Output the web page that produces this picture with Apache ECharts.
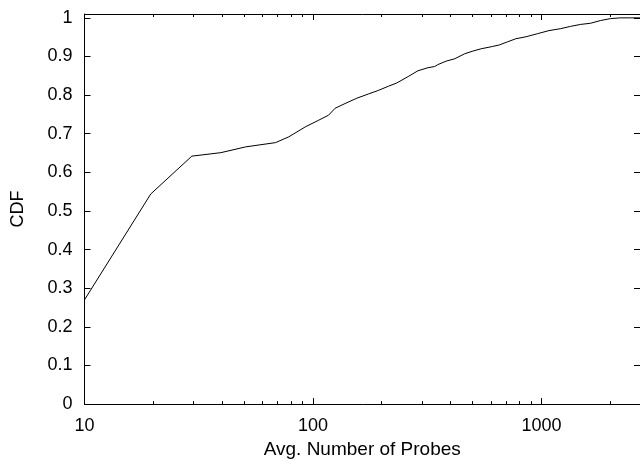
<!DOCTYPE html>
<html>
<head>
<meta charset="utf-8">
<script src="https://cdn.jsdelivr.net/npm/echarts@6/dist/echarts.min.js"></script>
<style>
  html, body { margin: 0; padding: 0; background: #fff; }
  #chart { width: 640px; height: 464px; }
</style>
</head>
<body>
<div id="chart"></div>
<script>
// Data (x: avg number of probes, y: CDF)
const probes = [10, 19.5, 29.5, 39.5, 50.8, 68.6, 78.4, 92.7, 105.9, 117, 125, 138, 155.6, 175, 193, 214, 232, 261, 288, 319, 341, 352, 383, 417, 461, 501, 545, 612, 655, 711, 773, 855, 961, 1079, 1213, 1342, 1483, 1639, 1811, 2004, 2214, 2448, 2700];
const cdf    = [0.270, 0.544, 0.642, 0.651, 0.666, 0.677, 0.692, 0.718, 0.735, 0.748, 0.766, 0.778, 0.792, 0.803, 0.812, 0.823, 0.831, 0.848, 0.863, 0.871, 0.874, 0.879, 0.888, 0.894, 0.907, 0.914, 0.920, 0.926, 0.930, 0.938, 0.946, 0.951, 0.959, 0.967, 0.972, 0.978, 0.983, 0.986, 0.993, 0.998, 1.0, 1.0, 1.0];

const xMajorTicks = [10, 100, 1000];
const xMinorTicks = [20, 30, 40, 50, 60, 70, 80, 90, 200, 300, 400, 500, 600, 700, 800, 900, 2000];
const yTicks = [0, 0.1, 0.2, 0.3, 0.4, 0.5, 0.6, 0.7, 0.8, 0.9, 1];

const xMin = 10, xMax = 2700;
const yMin = 0, yMax = 1.01;

const FONT = 'Liberation Sans, Arial, Helvetica, sans-serif';
const FS = 18;

const chart = echarts.init(document.getElementById('chart'), null, { renderer: 'canvas' });

function xAx(pos, ticks, len, showLine, showLabel, extra) {
  return Object.assign({
    type: 'log', logBase: 10, min: xMin, max: xMax, position: pos,
    axisLine: { show: showLine, lineStyle: { color: '#000', width: 1 } },
    axisTick: { show: true, inside: true, length: len, customValues: ticks, lineStyle: { color: '#000', width: 1 } },
    axisLabel: { show: showLabel, customValues: ticks, color: '#000', fontFamily: FONT, fontSize: FS, margin: 13,
                 formatter: v => String(Math.round(v)) },
    splitLine: { show: false }, minorTick: { show: false }, minorSplitLine: { show: false }
  }, extra || {});
}

function yAx(pos, showLabel, extra) {
  return Object.assign({
    type: 'value', min: yMin, max: yMax, position: pos,
    axisLine: { show: true, lineStyle: { color: '#000', width: 1 } },
    axisTick: { show: true, inside: true, length: 6, customValues: yTicks, lineStyle: { color: '#000', width: 1 } },
    axisLabel: { show: showLabel, customValues: yTicks, color: '#000', fontFamily: FONT, fontSize: FS, margin: 12 },
    splitLine: { show: false }
  }, extra || {});
}

const plotWidth = 558.6;

chart.setOption({
  animation: false,
  backgroundColor: '#fff',
  grid: { left: 84.5, top: 14, width: plotWidth, height: 394, containLabel: false },
  xAxis: [
    xAx('bottom', xMajorTicks, 6, true, true, {
      name: 'Avg. Number of Probes', nameLocation: 'middle', nameGap: 34,
      nameTextStyle: { color: '#000', fontFamily: FONT, fontSize: 19 }
    }),
    xAx('bottom', xMinorTicks, 3, false, false),
    xAx('top', xMajorTicks, 6, true, false),
    xAx('top', xMinorTicks, 3, false, false)
  ],
  yAxis: [
    yAx('left', true, {
      name: 'CDF', nameLocation: 'middle', nameGap: 57,
      nameTextStyle: { color: '#000', fontFamily: FONT, fontSize: FS }
    }),
    yAx('right', false)
  ],
  series: [{
    type: 'line',
    xAxisIndex: 0, yAxisIndex: 0,
    data: probes.map((p, i) => [p, cdf[i]]),
    showSymbol: false,
    symbol: 'none',
    lineStyle: { color: '#000', width: 1 },
    silent: true
  }]
});
</script>
</body>
</html>
